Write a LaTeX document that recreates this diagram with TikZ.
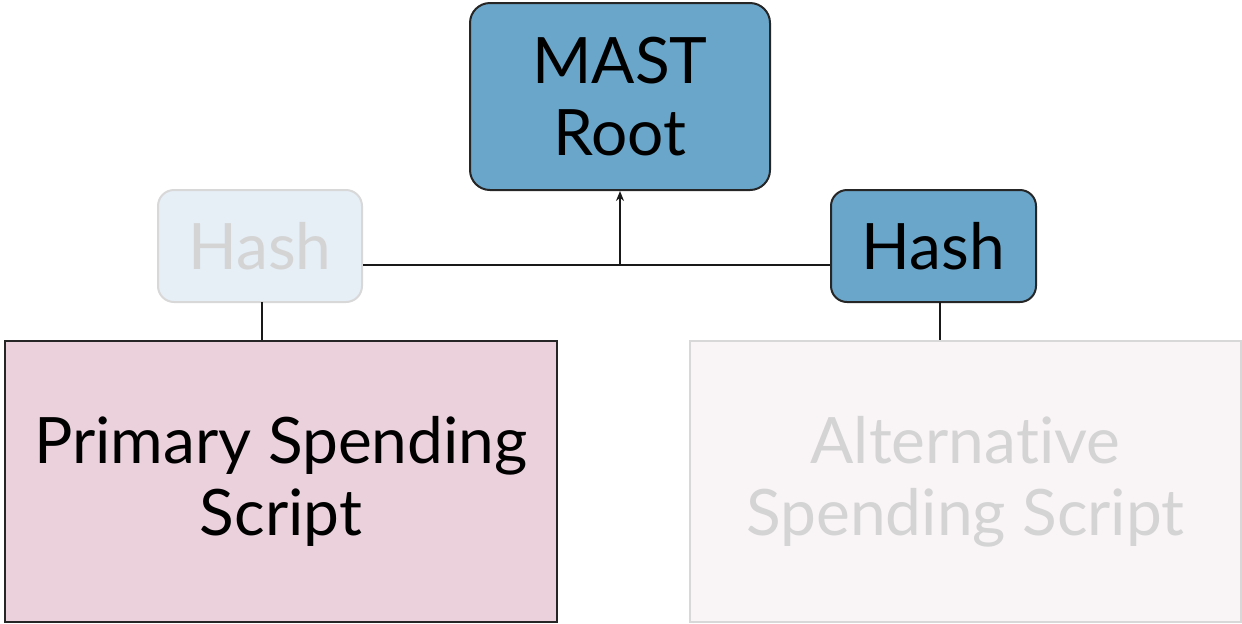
\documentclass[tikz,border=0pt]{standalone}
\usepackage{fontspec}
\setmainfont{Lato}[Ligatures=NoCommon]
\usetikzlibrary{arrows.meta}

\definecolor{hashblue}{RGB}{106,166,202}
\definecolor{fadedblue}{RGB}{230,238,246}
\definecolor{scriptpink}{RGB}{234,209,220}
\definecolor{fadedpink}{RGB}{249,245,246}
\definecolor{fadedline}{RGB}{216,216,216}
\definecolor{fadedtext}{RGB}{212,212,212}

\tikzset{
  label font/.style={font=\fontsize{32}{36}\selectfont, align=center, inner sep=0pt},
  hashbox/.style={label font, draw=black!85, line width=1pt, fill=hashblue, rounded corners=8pt},
  faded hashbox/.style={hashbox, draw=fadedline, fill=fadedblue, text=fadedtext},
  scriptbox/.style={label font, draw=black!85, line width=1pt, fill=scriptpink},
  faded scriptbox/.style={scriptbox, draw=fadedline, fill=fadedpink, text=fadedtext},
  link/.style={draw=black!90, line width=1pt}
}

\begin{document}
\begin{tikzpicture}[x=0.5pt, y=-0.5pt]
\useasboundingbox (0,0) rectangle (1242,623);

% tree nodes
\node[hashbox, rounded corners=10pt, minimum width=150pt, minimum height=93.5pt] (root) at (620,96.5) {MAST\\Root};
\node[faded hashbox, minimum width=102pt, minimum height=56pt] (lhash) at (260,246) {Hash};
\node[hashbox, minimum width=102.5pt, minimum height=56pt] (rhash) at (933.5,246) {Hash};
\node[scriptbox, minimum width=276pt, minimum height=140.5pt] (primary) at (281,481.5) {Primary Spending\\Script};
\node[faded scriptbox, minimum width=275.5pt, minimum height=140.5pt] (alt) at (965.5,481.5) {Alternative\\Spending Script};

% branches
\coordinate (join) at (620,265);
\coordinate (ldrop) at (262,302);
\coordinate (rdrop) at (940,302);
\draw[link] (lhash.east |- join) -- (rhash.west |- join);
\draw[link, -{Stealth[length=5pt, width=4pt]}] (join) -- (root.south);
\draw[link] (ldrop) -- (ldrop |- primary.north);
\draw[link] (rdrop) -- (rdrop |- alt.north);
\end{tikzpicture}
\end{document}
